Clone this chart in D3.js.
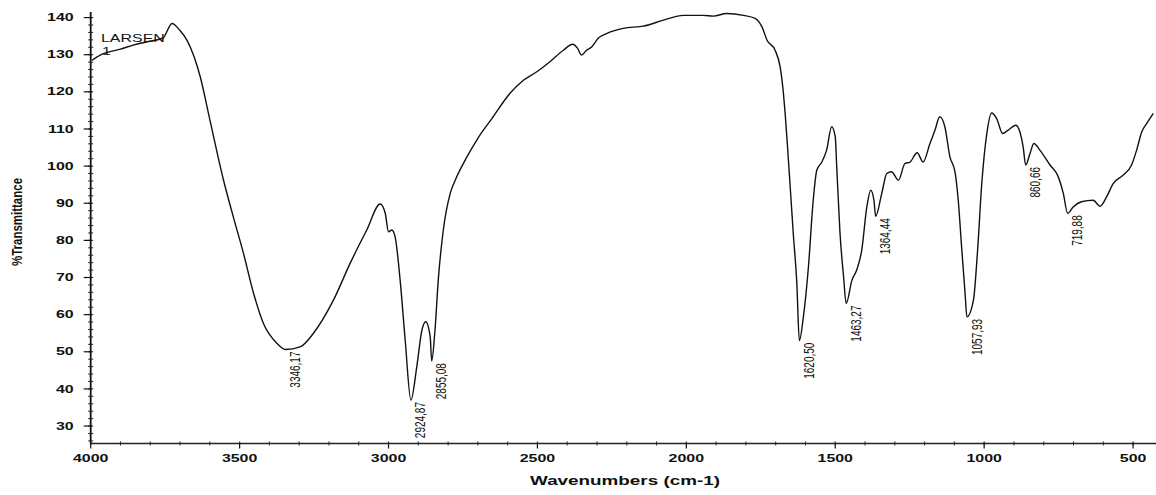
<!DOCTYPE html>
<html>
<head>
<meta charset="utf-8">
<script src="https://cdn.jsdelivr.net/npm/d3@7/dist/d3.min.js"></script>
<style>
html,body{margin:0;padding:0;background:#fff;}
svg{display:block;}
text{font-family:"Liberation Sans",Arial,Helvetica,sans-serif;fill:#111;}
</style>
</head>
<body>
<svg id="chart" width="1156" height="495"></svg>
<script>
// ---- data ----
const wavenumbers = [3996,3968,3900,3857,3810,3757,3727,3700,3676,3632,3600,3554,3520,3487,3453,3420,3375,3346.17,3297,3252,3185,3129,3073,3028,3011,3000,2989,2978,2961,2944,2924.87,2905,2888,2875,2860,2855.08,2844,2833,2816,2793,2776,2740,2700,2653,2592,2547,2502,2458,2413,2382,2365,2352,2335,2318,2296,2268,2212,2144,2077,2010,1943,1909,1864,1808,1769,1746,1729,1702,1685,1674,1668,1661,1652,1641,1629,1620.5,1607,1590,1574,1562,1545,1529,1512,1500,1495,1484,1472,1463.27,1444,1428,1411,1394,1381,1370,1364.44,1344,1327,1311,1288,1266,1249,1225,1205,1182,1165,1149,1132,1115,1098,1087,1075,1064,1057.93,1036,1022,1008,991,975,958,938,919,894,880,869,860.66,846,833,813,779,751,734,719.88,701,673,634,611,589,567,533,505,488,471,454,432];
const transmittance = [128.5,129.9,131.5,132.6,133.5,134.5,138.4,136.5,133.8,124,112.5,96.2,86,76.5,65.7,57.6,52.3,50.6,51.3,55.0,63.9,73.8,82.8,89.8,87.3,82.3,82.8,81.0,69.3,53.1,37.0,46,55.8,58.1,54.0,47.5,55.8,69.3,82.8,92.6,96.2,102,107.5,112.8,119.6,123.1,125.4,128.1,131.2,132.8,131.7,129.9,131.2,132.1,134.4,135.7,137.1,137.7,139.3,140.6,140.6,140.4,141.1,140.6,139.8,137.5,133.9,131.2,126.7,119.6,114,106.1,95.3,81.9,68.4,53,59.4,72.9,90.8,98.9,101.1,104.3,110.6,107.9,99.8,81.9,70.2,63,69.3,72,77.4,89.0,93.5,90.8,86.5,92.6,98,98.5,96.2,100.7,101.1,103.6,101.1,106.1,109.7,113.3,110.6,102.5,98.5,90.8,77.4,65.7,59.4,63.9,77.4,95.3,108.8,114.3,112.8,108.8,109.7,111.0,109.2,105.2,100.3,103.4,106.1,104.3,100.3,97.1,92.6,87.3,89,90.4,90.8,89.2,91.7,95.3,97.6,100.3,104.3,109.2,111.5,114.2];
const peakWavenumbers = [3346.17,2924.87,2855.08,1620.5,1463.27,1364.44,1057.93,860.66,719.88];
const peakLabels = ["3346,17","2924,87","2855,08","1620,50","1463,27","1364,44","1057,93","860,66","719,88"];
const xTickValues = [4000,3500,3000,2500,2000,1500,1000,500];
const yTickValues = [30,40,50,60,70,80,90,100,110,120,130,140];
const xTitle = "Wavenumbers (cm-1)";
const yTitle = "%Transmittance";
const sampleName = "LARSEN";
const sampleNumber = "1";

// ---- layout ----
const svg = d3.select("#chart");
const x = d3.scaleLinear().domain([4000, 423]).range([90.7, 1156]);
const y = d3.scaleLinear().domain([25.3, 141.5]).range([443.5, 12]);
const SX = 1.45; // horizontal stretch of the scanned text

const axisG = svg.append("g");
axisG.append("line").attr("x1", x(4000)).attr("x2", x(4000)).attr("y1", y(141.5)).attr("y2", y(25.3))
  .attr("stroke", "#111").attr("stroke-width", 1.8);
axisG.append("line").attr("x1", x(4000)).attr("x2", x(423)).attr("y1", y(25.3)).attr("y2", y(25.3))
  .attr("stroke", "#222").attr("stroke-width", 1.5);

const yMinor = d3.range(26, 141, 2);
axisG.selectAll(".yminor").data(yMinor).enter().append("line")
  .attr("x1", x(4000) - 2.5).attr("x2", x(4000) + 2.5)
  .attr("y1", d => y(d)).attr("y2", d => y(d))
  .attr("stroke", "#222").attr("stroke-width", 1);
axisG.selectAll(".ymajor").data(yTickValues).enter().append("line")
  .attr("x1", x(4000) - 7).attr("x2", x(4000) + 1)
  .attr("y1", d => y(d)).attr("y2", d => y(d))
  .attr("stroke", "#111").attr("stroke-width", 1.2);
axisG.selectAll(".ylab").data(yTickValues).enter().append("text")
  .attr("transform", d => `translate(${x(4000) - 17},${y(d)}) scale(${SX},1)`)
  .attr("text-anchor", "end").attr("dominant-baseline", "central")
  .attr("font-size", 11).attr("font-weight", "bold")
  .text(d => d);

const xMinor = d3.range(4000, 499, -100);
axisG.selectAll(".xminor").data(xMinor).enter().append("line")
  .attr("x1", d => x(d)).attr("x2", d => x(d))
  .attr("y1", y(25.3) - 2).attr("y2", y(25.3) + 2)
  .attr("stroke", "#222").attr("stroke-width", 1);
axisG.selectAll(".xmajor").data(xTickValues).enter().append("line")
  .attr("x1", d => x(d)).attr("x2", d => x(d))
  .attr("y1", y(25.3) - 1).attr("y2", y(25.3) + 5)
  .attr("stroke", "#111").attr("stroke-width", 1.2);
axisG.selectAll(".xlab").data(xTickValues).enter().append("text")
  .attr("transform", d => `translate(${x(d)},${462}) scale(${SX},1)`)
  .attr("text-anchor", "middle")
  .attr("font-size", 11).attr("font-weight", "bold")
  .text(d => d);

svg.append("text")
  .attr("transform", `translate(625,485) scale(${SX},1)`)
  .attr("text-anchor", "middle").attr("font-size", 13).attr("font-weight", "bold")
  .text(xTitle);
svg.append("text")
  .attr("transform", `translate(22,222) scale(1.35,1) rotate(-90)`)
  .attr("text-anchor", "middle").attr("font-size", 11.5).attr("font-weight", "bold")
  .text(yTitle);

svg.append("text")
  .attr("transform", `translate(101,42) scale(${SX},1)`)
  .attr("font-size", 11).text(sampleName);
svg.append("text")
  .attr("transform", `translate(102,55) scale(${SX},1)`)
  .attr("font-size", 11).text(sampleNumber);

const pts = wavenumbers.map((w, i) => [w, transmittance[i]]);
const line = d3.line().x(d => x(d[0])).y(d => y(d[1])).curve(d3.curveMonotoneX);
svg.append("path").datum(pts).attr("d", line)
  .attr("fill", "none").attr("stroke", "#111").attr("stroke-width", 1.4)
  .attr("stroke-linejoin", "round");

peakWavenumbers.forEach((w, i) => {
  const idx = wavenumbers.indexOf(w);
  const t = transmittance[idx];
  svg.append("text")
    .attr("transform", `translate(${x(w) + 10},${y(t) + 2}) scale(1.4,1) rotate(-90)`)
    .attr("text-anchor", "end").attr("dominant-baseline", "central")
    .attr("font-size", 10).text(peakLabels[i]);
});
</script>
</body>
</html>
